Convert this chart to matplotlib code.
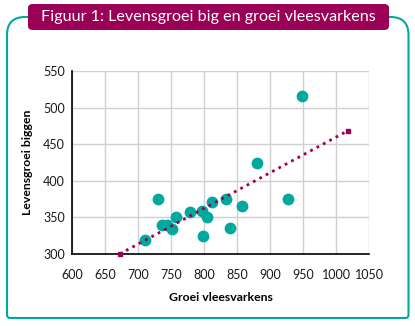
import numpy as np
import matplotlib.pyplot as plt
from matplotlib.patches import FancyBboxPatch
from matplotlib.path import Path
from matplotlib.patches import PathPatch

plt.rcParams['font.family'] = ['Lato', 'DejaVu Sans']

# groei vleesvarkens (x) en levensgroei biggen (y)
groei_vlees = [948, 881, 927, 730, 834, 812, 858, 779, 797, 805, 758, 736, 744, 751, 840, 798, 710]
groei_big = [516, 424, 375, 375, 375, 371, 366, 358, 359, 350, 350, 339, 339, 334, 336, 325, 319]
x_ticks = [600, 650, 700, 750, 800, 850, 900, 950, 1000, 1050]
y_ticks = [300, 350, 400, 450, 500, 550]
titel = 'Figuur 1: Levensgroei big en groei vleesvarkens'

teal = '#00A99D'
paars = '#9B0057'

fig = plt.figure(figsize=(4.15, 3.26), dpi=100)
W, H = 415, 326

# kader met afgeronde hoeken, open achter de titel
r = 18
x0, x1, y0, y1 = 7, 408.5, 8, 309
verts = [(28, y1), (x0 + r, y1), (x0, y1), (x0, y1 - r), (x0, y0 + 3),
         (x0, y0), (x0 + 3, y0), (x1 - 3, y0), (x1, y0), (x1, y0 + 3),
         (x1, y1 - r), (x1, y1), (x1 - r, y1), (389, y1)]
codes = [Path.MOVETO, Path.LINETO, Path.CURVE3, Path.CURVE3, Path.LINETO,
         Path.CURVE3, Path.CURVE3, Path.LINETO, Path.CURVE3, Path.CURVE3,
         Path.LINETO, Path.CURVE3, Path.CURVE3, Path.LINETO]
verts = [(vx / W, vy / H) for vx, vy in verts]
fig.patches.append(PathPatch(Path(verts, codes), transform=fig.transFigure,
                             fill=False, edgecolor=teal, linewidth=1.5))

# titelbalk
fig.patches.append(FancyBboxPatch((28 / W, (326 - 30) / H), 361 / W, 26 / H,
                                  boxstyle='round,pad=0,rounding_size=0.012',
                                  transform=fig.transFigure, facecolor=paars,
                                  edgecolor='none'))
fig.text(208.5 / W, (326 - 17) / H, titel, color='white', fontsize=11.6,
         ha='center', va='center')

ax = fig.add_axes([72 / W, 72 / H, 297 / W, 183 / H])
ax.set_xlim(600, 1050)
ax.set_ylim(300, 550)
ax.set_xticks(x_ticks)
ax.set_yticks(y_ticks)
ax.grid(True, color='#D0D0D0', linewidth=1)
ax.set_axisbelow(True)
for s in ['top', 'right']:
    ax.spines[s].set_visible(False)
ax.spines['left'].set_linewidth(1.2)
ax.spines['bottom'].set_linewidth(1.2)
ax.tick_params(length=0, labelsize=9, pad=5, colors='#1a1a1a')
ax.tick_params(axis='x', pad=11)

ax.scatter(groei_vlees, groei_big, s=72, color=teal, zorder=3, linewidths=0)

# lineaire trendlijn, vanaf de x-as tot 1018
a, b = np.polyfit(groei_vlees, groei_big, 1)
x_start = (300 - b) / a
tx = np.array([x_start, 1018])
ax.plot(tx, a * tx + b, color=paars, linestyle=(0, (1, 1.6)), linewidth=2,
        zorder=4, clip_on=False)
ax.plot(tx, a * tx + b, 's', color=paars, markersize=2.4, zorder=4, clip_on=False)

ax.set_xlabel('Groei vleesvarkens', fontsize=8.8, fontweight='bold', labelpad=8)
ax.set_ylabel('Levensgroei biggen', fontsize=8.8, fontweight='bold', labelpad=7)

fig.savefig('out.png', dpi=100)
